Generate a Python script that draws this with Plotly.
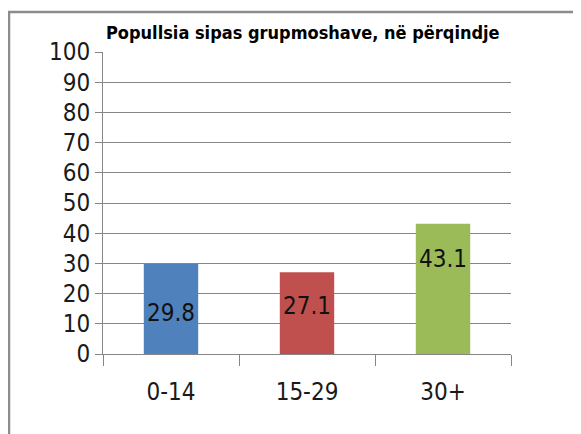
import plotly.graph_objects as go

# age groups and their share of population (%)
categories = ["0-14", "15-29", "30+"]
values = [29.8, 27.1, 43.1]
labels = ["29.8", "27.1", "43.1"]
y_ticks = [0, 10, 20, 30, 40, 50, 60, 70, 80, 90, 100]

colors = ["#4F81BD", "#C0504D", "#9BBB59"]
label_shift = [-49, -34, -35]

font = "DejaVu Sans Condensed, sans-serif"

fig = go.Figure()
fig.add_trace(go.Bar(
    x=categories,
    y=values,
    marker=dict(color=colors, line=dict(width=0)),
    width=0.4,
    hoverinfo="skip",
))

# value labels inside the bars
for cat, val, txt, sh in zip(categories, values, labels, label_shift):
    fig.add_annotation(x=cat, y=val, text=txt, showarrow=False,
                       yshift=sh, font=dict(family=font, size=24, color="#111111"))

# chart title
fig.add_annotation(xref="paper", yref="paper", x=0.49, y=1.063, yanchor="middle",
                   text="<b>Popullsia sipas grupmoshave, në përqindje</b>",
                   showarrow=False, font=dict(family=font, size=18, color="#000000"))

# outer frame (left and top edges visible)
fig.add_shape(type="path", xref="paper", yref="paper",
              path="M -0.2304 -0.35 L -0.2304 1.1325 L 1.3 1.1325",
              line=dict(color="#8C8C8C", width=2.5))

# page body has an 8px margin, so the figure is 8px smaller and margins shifted
fig.update_layout(
    width=573, height=426,
    margin=dict(l=95, r=70, t=44, b=80, autoexpand=False),
    paper_bgcolor="white", plot_bgcolor="white",
    showlegend=False,
    font=dict(family=font, size=24, color="#1a1a1a"),
)
fig.update_xaxes(
    automargin=False,
    showgrid=False, showline=True, linecolor="#868686", linewidth=1,
    ticks="outside", tickson="boundaries", ticklen=11, tickcolor="#868686",
    ticklabelstandoff=16,
    tickfont=dict(family=font, size=24, color="#1a1a1a"),
)
fig.update_yaxes(
    automargin=False,
    range=[0, 100], tickvals=y_ticks, showgrid=True, gridcolor="#868686", gridwidth=1,
    showline=True, linecolor="#868686", linewidth=1, zeroline=False,
    ticks="outside", ticklen=7, tickcolor="#868686",
    tickfont=dict(family=font, size=24, color="#1a1a1a"),
)

fig.write_html("out.html")
